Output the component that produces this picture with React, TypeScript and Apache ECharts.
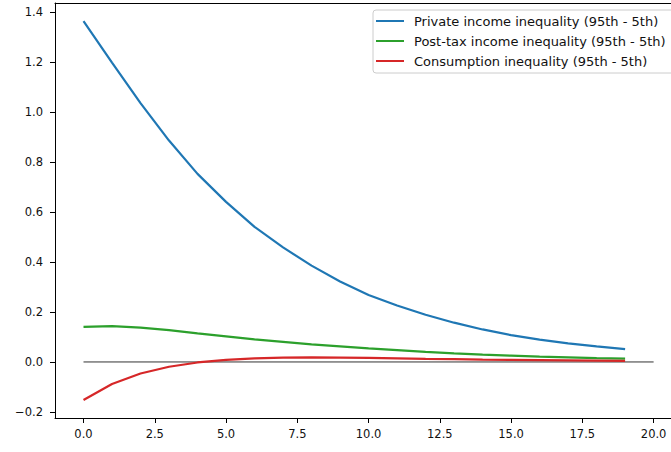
import React, { useEffect, useRef } from "react";
import * as echarts from "echarts";

const steps = [0, 1, 2, 3, 4, 5, 6, 7, 8, 9, 10, 11, 12, 13, 14, 15, 16, 17, 18, 19];
const privateIncome = [1.363, 1.197, 1.035, 0.885, 0.752, 0.64, 0.54, 0.458, 0.385, 0.322, 0.268, 0.226, 0.189, 0.157, 0.13, 0.107, 0.089, 0.074, 0.062, 0.051];
const postTaxIncome = [0.14, 0.143, 0.137, 0.127, 0.114, 0.102, 0.09, 0.08, 0.07, 0.062, 0.054, 0.047, 0.04, 0.034, 0.029, 0.025, 0.021, 0.018, 0.015, 0.013];
const consumption = [-0.152, -0.088, -0.046, -0.019, -0.002, 0.008, 0.014, 0.017, 0.018, 0.017, 0.016, 0.014, 0.012, 0.011, 0.009, 0.008, 0.007, 0.006, 0.005, 0.004];
const zeroLineX = [0, 20];
const xTicks = [0, 2.5, 5, 7.5, 10, 12.5, 15, 17.5, 20];
const yTicks = [-0.2, 0, 0.2, 0.4, 0.6, 0.8, 1.0, 1.2, 1.4];
const seriesNames = [
  "Private income inequality (95th - 5th)",
  "Post-tax income inequality (95th - 5th)",
  "Consumption inequality (95th - 5th)",
];

const fmt = (v: number) => (v < 0 ? "\u2212" + Math.abs(v).toFixed(1) : v.toFixed(1));

export default function App() {
  const ref = useRef<HTMLDivElement>(null);
  useEffect(() => {
    if (!ref.current) return;
    const chart = echarts.init(ref.current, undefined, { renderer: "svg" });
    const font = "DejaVu Sans";
    const pair = (arr: number[]) => steps.map((s, i) => [s, arr[i]]);
    chart.setOption({
      animation: false,
      backgroundColor: "#fff",
      textStyle: { fontFamily: font },
      grid: {
        left: 55,
        top: 3,
        right: 0,
        height: 415,
        show: false,
      },
      legend: {
        orient: "vertical",
        left: 373,
        top: 10,
        data: seriesNames,
        icon: "rect",
        itemWidth: 28,
        itemHeight: 2,
        itemGap: 6,
        padding: [4, 14, 5, 3],
        backgroundColor: "rgba(255,255,255,0.8)",
        borderColor: "#ccc",
        borderWidth: 1,
        borderRadius: 3,
        textStyle: { fontFamily: font, fontSize: 13, lineHeight: 14, color: "#111", padding: [0, 0, 0, 5] },
      },
      xAxis: [
        {
          type: "value",
          min: -1,
          max: 20.61,
          splitLine: { show: false },
          axisLine: { show: true, onZero: false, lineStyle: { color: "#000", width: 1 } },
          axisTick: { show: true, length: 5, customValues: xTicks, lineStyle: { color: "#000" } },
          axisLabel: {
            customValues: xTicks,
            formatter: fmt,
            fontFamily: font,
            fontSize: 11.5,
            color: "#111",
            margin: 10,
          },
        },
        {
          type: "value",
          position: "top",
          min: -1,
          max: 20.61,
          splitLine: { show: false },
          axisLine: { show: true, onZero: false, lineStyle: { color: "#000", width: 1 } },
          axisTick: { show: false },
          axisLabel: { show: false },
        },
      ],
      yAxis: {
        type: "value",
        min: -0.224,
        max: 1.435,
        splitLine: { show: false },
        axisLine: { show: true, onZero: false, lineStyle: { color: "#000", width: 1 } },
        axisTick: { show: true, length: 5, customValues: yTicks, lineStyle: { color: "#000" } },
        axisLabel: {
          customValues: yTicks,
          formatter: fmt,
          fontFamily: font,
          fontSize: 11.5,
          color: "#111",
          margin: 12,
        },
      },
      series: [
        {
          name: "zero",
          type: "line",
          data: zeroLineX.map((x) => [x, 0]),
          symbol: "none",
          lineStyle: { color: "#333", width: 1 },
          silent: true,
          z: 1,
        },
        {
          name: seriesNames[0],
          type: "line",
          data: pair(privateIncome),
          symbol: "none",
          color: "#1f77b4",
          lineStyle: { color: "#1f77b4", width: 2.2 },
          z: 2,
        },
        {
          name: seriesNames[1],
          type: "line",
          data: pair(postTaxIncome),
          symbol: "none",
          color: "#2ca02c",
          lineStyle: { color: "#2ca02c", width: 2.2 },
          z: 3,
        },
        {
          name: seriesNames[2],
          type: "line",
          data: pair(consumption),
          symbol: "none",
          color: "#d62728",
          lineStyle: { color: "#d62728", width: 2.2 },
          z: 4,
        },
      ],
    });
    return () => chart.dispose();
  }, []);
  return <div ref={ref} style={{ width: 671, height: 452, position: "absolute", left: 0, top: 0 }} />;
}
